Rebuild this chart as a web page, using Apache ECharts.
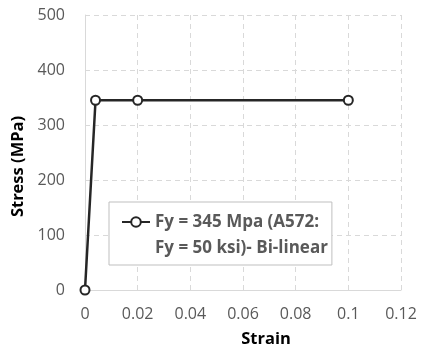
<!DOCTYPE html>
<html>
<head>
<meta charset="utf-8">
<script src="https://cdn.jsdelivr.net/npm/echarts@6/dist/echarts.min.js"></script>
<style>html,body{margin:0;padding:0;background:#fff}#c{width:425px;height:349px}</style>
</head>
<body>
<div id="c"></div>
<script>
var strain = [0, 0.004, 0.02, 0.1];
var stress = [0, 345, 345, 345];
var seriesName = 'Fy = 345 Mpa (A572:\nFy = 50 ksi)- Bi-linear';
var xTicks = [0, 0.02, 0.04, 0.06, 0.08, 0.1, 0.12];
var yTicks = [0, 100, 200, 300, 400, 500];

var chart = echarts.init(document.getElementById('c'));
var font = '"Open Sans", "Liberation Sans", sans-serif';
chart.setOption({
  animation: false,
  textStyle: {fontFamily: font},
  grid: {left: 85, right: 24, top: 15, bottom: 59, outerBoundsMode: 'none', containLabel: false},
  xAxis: {
    type: 'value', min: 0, max: 0.12, interval: 0.02,
    name: 'Strain', nameLocation: 'middle', nameGap: 41,
    nameTextStyle: {fontSize: 16.5, fontWeight: 'bold', color: '#000', fontFamily: font, padding: [0, 0, 0, 46]},
    axisLine: {show: true, lineStyle: {color: '#d9d9d9', width: 1}},
    axisTick: {show: false},
    axisLabel: {fontSize: 16, color: '#595959', margin: 16, fontFamily: font,
      formatter: function (v) { return String(+v.toFixed(2)); }},
    splitLine: {show: true, lineStyle: {color: '#d9d9d9', type: [5, 4], width: 1}}
  },
  yAxis: {
    type: 'value', min: 0, max: 500, interval: 100,
    name: 'Stress (MPa)', nameLocation: 'middle', nameGap: 52,
    nameTextStyle: {fontSize: 16.5, fontWeight: 'bold', color: '#000', fontFamily: font, padding: [0, 28, 0, 0]},
    axisLine: {show: true, lineStyle: {color: '#d9d9d9', width: 1}},
    axisTick: {show: false},
    axisLabel: {fontSize: 16, color: '#595959', margin: 20, fontFamily: font},
    splitLine: {show: true, lineStyle: {color: '#d9d9d9', type: [5, 4], width: 1}}
  },
  legend: {
    left: 109, top: 202,
    orient: 'vertical',
    itemWidth: 28, itemHeight: 12,
    backgroundColor: '#fff',
    borderColor: '#bfbfbf', borderWidth: 1,
    padding: [-19, 4, 4, 12],
    formatter: function (name) {
      var lines = name.split('\n');
      return '{p| }\n{a|' + lines[0] + '}\n{a|' + lines[1] + '}';
    },
    textStyle: {
      fontSize: 17, fontWeight: 'bold', color: '#595959', fontFamily: font, lineHeight: 26,
      rich: {
        p: {fontSize: 17, lineHeight: 26},
        a: {fontSize: 17, fontWeight: 'bold', color: '#595959', fontFamily: font, lineHeight: 26}
      }
    },
    data: [seriesName]
  },
  series: [{
    name: seriesName,
    type: 'line',
    data: strain.map(function (x, i) { return [x, stress[i]]; }),
    symbol: 'circle', symbolSize: 9,
    itemStyle: {color: '#fff', borderColor: '#262626', borderWidth: 2},
    lineStyle: {color: '#262626', width: 2.5},
    z: 3
  }]
});
</script>
</body>
</html>
